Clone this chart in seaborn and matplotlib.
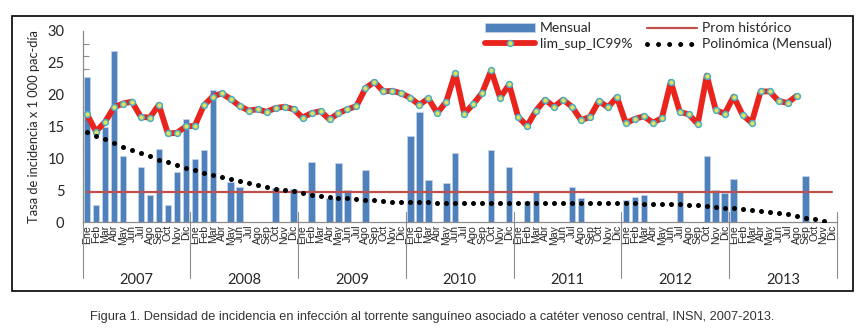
import numpy as np
import pandas as pd
import matplotlib
matplotlib.use("Agg")
import matplotlib.pyplot as plt
import matplotlib.transforms as mtransforms
from matplotlib.lines import Line2D
from matplotlib.patches import Patch, Rectangle
import seaborn as sns

years = ["2007", "2008", "2009", "2010", "2011", "2012", "2013"]
months = ["Ene", "Feb", "Mar", "Abr", "May", "Jun",
          "Jul", "Ago", "Sep", "Oct", "Nov", "Dic"]

# monthly incidence (0 = no event that month)
mensual = [
    22.7, 2.7, 14.9, 26.9, 10.4, 0, 8.6, 4.2, 11.5, 2.6, 7.8, 16.2,
    9.9, 11.3, 20.7, 0, 6.3, 5.5, 0, 0, 0, 5.3, 0, 5.2,
    0, 9.5, 0, 3.8, 9.2, 5.0, 0, 8.1, 0, 0, 0, 0,
    13.5, 17.2, 6.6, 0, 6.2, 10.8, 0, 0, 0, 11.3, 0, 8.7,
    0, 3.3, 4.9, 0, 0, 0, 5.5, 3.8, 0, 0, 0, 0,
    3.4, 4.0, 4.3, 0, 0, 0, 4.7, 0, 0, 10.4, 5.0, 4.5,
    6.8, 0, 0, 0, 0, 0, 0, 0, 7.3, 0, 0, 0,
]

lim_sup = [
    16.9, 14.2, 15.7, 18.0, 18.6, 18.9, 16.5, 16.4, 18.4, 13.9, 14.0, 15.0,
    15.1, 18.3, 19.7, 20.2, 19.3, 18.2, 17.5, 17.7, 17.3, 17.9, 18.1, 17.7,
    16.4, 17.1, 17.4, 16.1, 17.1, 17.7, 18.2, 21.0, 22.0, 20.5, 20.6, 20.2,
    19.5, 18.4, 19.4, 17.1, 18.9, 23.4, 17.0, 18.5, 20.3, 23.8, 19.5, 21.6,
    16.5, 15.1, 17.5, 19.2, 18.1, 19.2, 18.1, 16.0, 16.5, 19.0, 18.0, 19.6,
    15.5, 16.2, 16.6, 15.6, 16.3, 22.0, 17.3, 16.9, 15.4, 23.0, 17.6, 17.0,
    19.7, 16.8, 15.6, 20.5, 20.5, 19.0, 18.7, 19.8, np.nan, np.nan, np.nan, np.nan,
]

polinomica = [
    14.2, 13.5, 13.0, 12.4, 11.8, 11.3, 10.8, 10.3, 9.8, 9.4, 8.9, 8.5,
    8.1, 7.7, 7.4, 7.0, 6.7, 6.4, 6.1, 5.8, 5.5, 5.2, 5.0, 4.8,
    4.5, 4.3, 4.1, 3.9, 3.8, 3.7, 3.6, 3.5, 3.4, 3.3, 3.2, 3.2,
    3.1, 3.1, 3.1, 3.0, 3.0, 3.0, 3.0, 3.0, 3.0, 3.0, 3.0, 3.0,
    3.0, 3.0, 3.0, 3.0, 3.0, 3.0, 3.0, 3.0, 3.0, 3.0, 3.0, 3.0,
    3.0, 2.95, 2.9, 2.9, 2.85, 2.8, 2.75, 2.7, 2.6, 2.5, 2.4, 2.25,
    2.15, 2.0, 1.9, 1.7, 1.6, 1.4, 1.2, 1.0, 0.7, 0.5, 0.2, np.nan,
]

prom_historico = 4.7

n = len(mensual)
df = pd.DataFrame({
    "idx": np.arange(n),
    "mensual": mensual,
    "lim_sup": lim_sup,
    "poli": polinomica,
    "prom": [prom_historico] * n,
})

sns.set_theme(style="white")
plt.rcParams["font.family"] = ["Lato", "DejaVu Sans"]

fig = plt.figure(figsize=(8.65, 3.33), dpi=100)
ax = fig.add_axes([0.0954, 0.3333, 0.8722, 0.5737])

bar_blue = "#4F81BD"
red = "#E8241C"
gray = "#8C8C8C"

sns.barplot(data=df, x="idx", y="mensual", color=bar_blue, saturation=1,
            width=0.72, edgecolor="#C6D6EA", linewidth=0.5, ax=ax, zorder=2)
sns.lineplot(data=df, x="idx", y="prom", color="#C0504D", linewidth=1.6,
             ax=ax, zorder=3)
sns.lineplot(data=df, x="idx", y="lim_sup", color=red, linewidth=4.2,
             marker="o", markersize=4.2, markerfacecolor="#E2E35A",
             markeredgecolor="#4BACC6", markeredgewidth=1.1, ax=ax, zorder=4)
sns.lineplot(data=df, x="idx", y="poli", color="black", linestyle="none",
             marker="o", markersize=3.6, markeredgewidth=0, ax=ax, zorder=5)

ax.set_xlim(-0.5, n - 0.5)
ax.set_ylim(0, 30)
ax.set_xlabel("")
ax.set_ylabel("Tasa de incidencia x 1 000 pac-día", fontsize=9.3,
              labelpad=5, color="#262626")

ax.set_yticks(range(0, 31, 5))
ax.set_yticks(range(0, 31, 2), minor=True)
ax.tick_params(axis="y", which="major", length=0, pad=13, labelsize=10.5,
               colors="#262626")
ax.tick_params(axis="y", which="minor", direction="in", length=4,
               color=gray, width=0.8, left=True)

ax.set_xticks(range(n))
ax.set_xticklabels(months * len(years), rotation=90, fontsize=7.6,
                   fontfamily="Liberation Sans")
ax.tick_params(axis="x", length=0, pad=2)

for side in ["top", "right"]:
    ax.spines[side].set_visible(False)
for side in ["left", "bottom"]:
    ax.spines[side].set_color(gray)
    ax.spines[side].set_linewidth(0.9)

# year separators and year labels
trans = mtransforms.blended_transform_factory(ax.transData, ax.transAxes)
for i in range(len(years) + 1):
    xb = i * 12 - 0.5
    ax.plot([xb, xb], [0.055, -0.295], transform=trans, color=gray,
            linewidth=0.8, clip_on=False, zorder=1)
for i, yr in enumerate(years):
    ax.text(i * 12 + 5.5, -0.305, yr, transform=trans, ha="center",
            va="center", fontsize=10.5, color="#262626")

handles = [
    Patch(facecolor=bar_blue, edgecolor="#C6D6EA", linewidth=0.5),
    Line2D([], [], color=red, linewidth=4.2, marker="o", markersize=4.2,
           markerfacecolor="#E2E35A", markeredgecolor="#4BACC6",
           markeredgewidth=1.1),
    Line2D([], [], color="#C0504D", linewidth=1.6),
    Line2D([], [], color="black", linestyle=(0, (0.01, 2.2)), linewidth=3.6,
           dash_capstyle="round"),
]
labels = ["Mensual", "lim_sup_IC99%", "Prom histórico", "Polinómica (Mensual)"]
fig.legend(handles, labels, ncol=2, loc="upper left",
           bbox_to_anchor=(0.550, 0.962), frameon=False, fontsize=10,
           handlelength=3.6, handletextpad=0.3, columnspacing=1.1,
           labelspacing=0.25, borderpad=0.2)

# outer frame of the chart
fig.patches.append(Rectangle((0.0139, 0.1261), 0.9723, 0.8258,
                             transform=fig.transFigure, fill=False,
                             edgecolor="black", linewidth=1.2))

fig.text(0.5, 0.048,
         "Figura 1. Densidad de incidencia en infección al torrente sanguíneo "
         "asociado a catéter venoso central, INSN, 2007-2013.",
         ha="center", va="center", fontsize=9.2, color="#333333",
         family=["Liberation Sans", "DejaVu Sans"])

fig.savefig("out.png", dpi=100)
